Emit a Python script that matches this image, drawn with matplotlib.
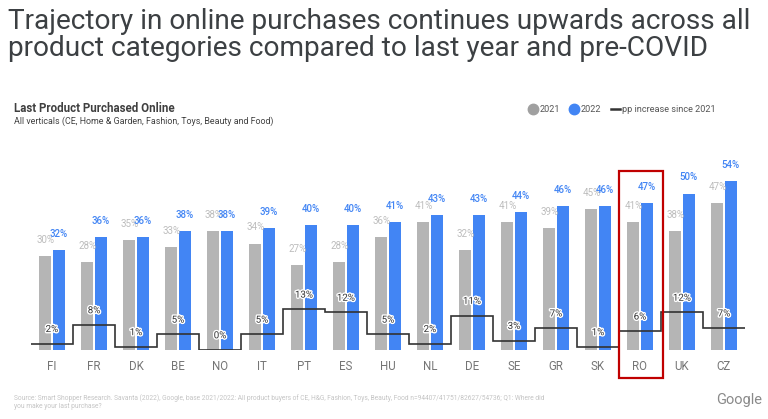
import numpy as np
import matplotlib
matplotlib.use("Agg")
import matplotlib.pyplot as plt
import matplotlib.patheffects as pe
from matplotlib.lines import Line2D
from matplotlib.patches import Rectangle

plt.rcParams['font.family'] = ['Roboto', 'DejaVu Sans']

countries = ["FI", "FR", "DK", "BE", "NO", "IT", "PT", "ES", "HU", "NL", "DE", "SE", "GR", "SK", "RO", "UK", "CZ"]
y2021 = [30, 28, 35, 33, 38, 34, 27, 28, 36, 41, 32, 41, 39, 45, 41, 38, 47]
y2022 = [32, 36, 36, 38, 38, 39, 40, 40, 41, 43, 43, 44, 46, 46, 47, 50, 54]
pp_increase = [2, 8, 1, 5, 0, 5, 13, 12, 5, 2, 11, 3, 7, 1, 6, 12, 7]
highlight = "RO"
title_lines = ["Trajectory in online purchases continues upwards across all",
               "product categories compared to last year and pre-COVID"]

GREY = "#b5b5b5"
BLUE = "#4285f4"
W, H = 768, 419

fig = plt.figure(figsize=(W / 100, H / 100), dpi=100)
fig.patch.set_facecolor("white")

# axes placement (pixel based)
ax_l, ax_r, ax_b, ax_t = 20, 750, 350, 170
ax = fig.add_axes([ax_l / W, (H - ax_b) / H, (ax_r - ax_l) / W, (ax_b - ax_t) / H])
ppx = 42.0
x0px = 52
ax.set_xlim((ax_l - x0px) / ppx, (ax_r - x0px) / ppx)
ppy = 3.13
ax.set_ylim(0, (ax_b - ax_t) / ppy)

x = np.arange(len(countries))
bw = 0.28
off = 0.158
ax.bar(x - off, y2021, width=bw, color=GREY, zorder=2)
ax.bar(x + off, y2022, width=bw, color=BLUE, zorder=2)

for xi, a, b in zip(x, y2021, y2022):
    ax.annotate(f"{a}%", (xi - off, a), xytext=(0, 8), textcoords="offset points",
                ha="center", va="bottom", fontsize=7, color="#bdbdbd", zorder=4)
    ax.annotate(f"{b}%", (xi + off, b), xytext=(0, 8), textcoords="offset points",
                ha="center", va="bottom", fontsize=7, color=BLUE, zorder=5,
                fontweight="medium")

edges = np.arange(len(countries) + 1) - 0.5
ax.stairs(pp_increase, edges, baseline=None, color="#333333", linewidth=1.2, zorder=6)
for xi, p in zip(x, pp_increase):
    ax.annotate(f"{p}%", (xi, p), xytext=(0, 7), textcoords="offset points",
                ha="center", va="bottom", fontsize=7, color="#333333", zorder=7,
                path_effects=[pe.withStroke(linewidth=2, foreground="white")])

ax.set_xticks(x)
ax.set_xticklabels(countries, fontsize=8.3, color="#757575")
ax.tick_params(axis="x", length=0, pad=7)
ax.set_yticks([])
for s in ax.spines.values():
    s.set_visible(False)

# highlight box
hi = countries.index(highlight)
rect = Rectangle((hi - 0.5, -28 / ppy), 1.05, (378 - 171) / ppy, fill=False,
                 edgecolor="#c00000", linewidth=1.6, clip_on=False, zorder=8)
ax.add_patch(rect)

# titles
for line, base in zip(title_lines, [29, 56]):
    fig.text(8 / W, 1 - base / H, line, ha="left", va="baseline",
             fontsize=20.2, color="#3c4043")
fig.text(14 / W, 1 - 108 / H, "Last Product Purchased Online", ha="left", va="center",
         fontsize=8.3, fontweight="bold", color="#404040")
fig.text(14 / W, 1 - 121 / H, "All verticals (CE, Home & Garden, Fashion, Toys, Beauty and Food)",
         ha="left", va="center", fontsize=6.4, color="#404040")

# legend
handles = [
    Line2D([], [], marker="o", linestyle="none", markersize=7.5, color="#a0a0a0"),
    Line2D([], [], marker="o", linestyle="none", markersize=7.5, color=BLUE),
    Line2D([], [], color="#333333", linewidth=1.8),
]
fig.legend(handles, ["2021", "2022", "pp increase since 2021"], loc="center right",
           bbox_to_anchor=(724 / W, 1 - 110 / H), ncol=3, frameon=False, fontsize=6.6,
           handlelength=1.0, handletextpad=0.25, columnspacing=1.0, labelcolor="#555555")

# source
fig.text(14 / W, 1 - 402 / H,
         "Source: Smart Shopper Research. Savanta (2022), Google, base 2021/2022: All product buyers of CE, H&G, "
         "Fashion, Toys, Beauty, Food n=94407/41751/82627/54736; Q1: Where did\nyou make your last purchase?",
         ha="left", va="center", fontsize=4.75, color="#c4c4c4", linespacing=1.3)
fig.text(762 / W, 1 - 400 / H, "Google", ha="right", va="center", fontsize=10.5, color="#8a8a8a")

fig.savefig("out.png", dpi=100)
